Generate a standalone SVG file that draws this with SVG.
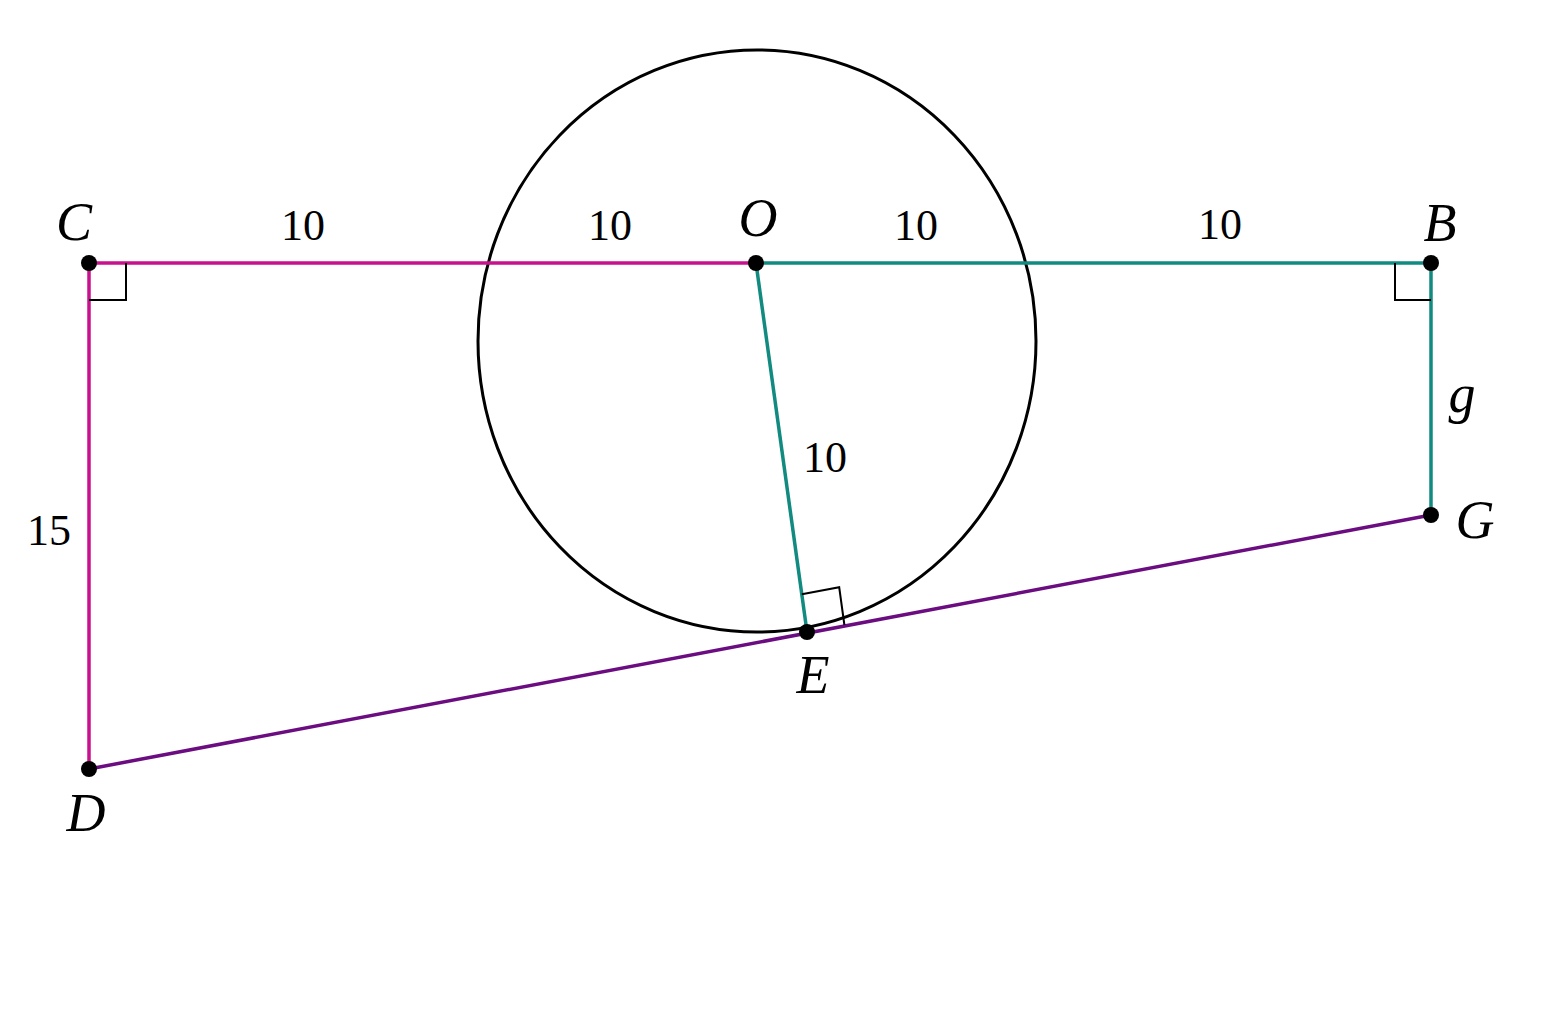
<svg xmlns="http://www.w3.org/2000/svg" width="1558" height="1009" viewBox="0 0 1558 1009">
<style>
.lbl{font-family:"Liberation Serif","DejaVu Serif",serif;font-style:italic;font-size:54px;fill:#000;text-anchor:middle}
.num{font-family:"Liberation Serif","DejaVu Serif",serif;font-size:44px;fill:#000;text-anchor:middle}
.pink{stroke:#C8118C;stroke-width:3.5;fill:none}
.teal{stroke:#118A80;stroke-width:3.5;fill:none}
.purp{stroke:#6B0C80;stroke-width:3.5;fill:none}
.thin{stroke:#000;stroke-width:2;fill:none}
.dot{fill:#000}
</style>
<rect width="1558" height="1009" fill="#fff"/>
<g id="circle">
<ellipse cx="757" cy="341" rx="279" ry="291" fill="none" stroke="#000" stroke-width="3"/>
</g>
<g id="connectors">
<line class="pink" x1="89" y1="263" x2="756" y2="263"/>
<line class="pink" x1="89" y1="263" x2="89" y2="769"/>
<line class="teal" x1="756" y1="263" x2="1431" y2="263"/>
<line class="teal" x1="1431" y1="263" x2="1431" y2="515"/>
<line class="teal" x1="756" y1="263" x2="807" y2="632"/>
<line class="purp" x1="89" y1="769" x2="1431" y2="515"/>
<polyline class="thin" points="126,263 126,300 89,300"/>
<polyline class="thin" points="1395,263 1395,300 1431,300"/>
<polyline class="thin" points="801.8,594.3 839.2,587.3 844.4,625"/>
</g>
<g id="C"><circle class="dot" cx="89" cy="263" r="8"/><text class="lbl" x="74" y="240">C</text></g>
<g id="O"><circle class="dot" cx="756" cy="263" r="8"/><text class="lbl" x="758" y="236">O</text></g>
<g id="B"><circle class="dot" cx="1431" cy="263" r="8"/><text class="lbl" x="1440" y="241">B</text></g>
<g id="G"><circle class="dot" cx="1431" cy="515" r="8"/><text class="lbl" x="1475" y="538">G</text></g>
<g id="E"><circle class="dot" cx="807" cy="632" r="8"/><text class="lbl" x="813" y="693">E</text></g>
<g id="D"><circle class="dot" cx="89" cy="769" r="8"/><text class="lbl" x="86" y="831">D</text></g>
<g id="labels">
<text class="num" x="303" y="240">10</text>
<text class="num" x="610" y="240">10</text>
<text class="num" x="916" y="240">10</text>
<text class="num" x="1220" y="239">10</text>
<text class="num" x="825" y="472">10</text>
<text class="num" x="49" y="545">15</text>
<text class="lbl" x="1462" y="412">g</text>
</g>
</svg>
